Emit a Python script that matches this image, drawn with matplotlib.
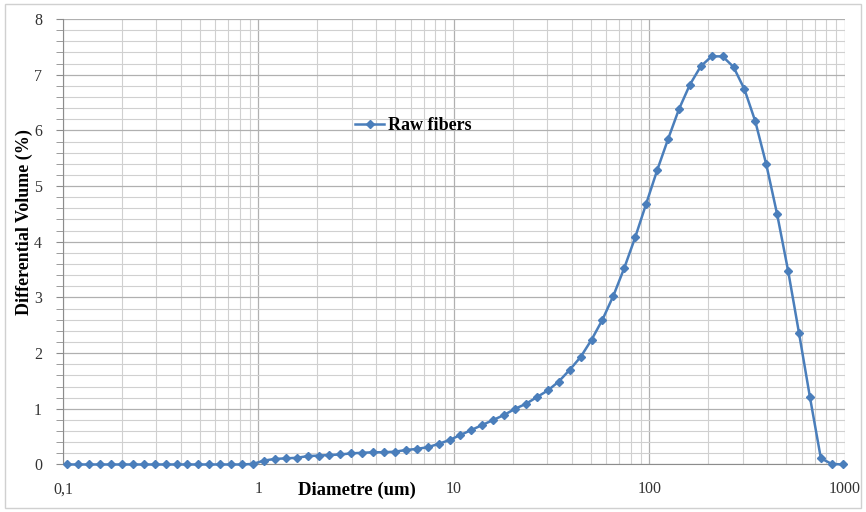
import matplotlib.pyplot as plt
from matplotlib.ticker import FixedLocator, NullFormatter, MultipleLocator
from matplotlib.patches import Rectangle

# Diameter bins (um)
diameter = [0.1053, 0.1198, 0.1362, 0.1549, 0.1761, 0.2003, 0.2278, 0.2591,
            0.2946, 0.3350, 0.3810, 0.4333, 0.4928, 0.5605, 0.6373, 0.7249,
            0.8244, 0.9377, 1.067, 1.213, 1.380, 1.569, 1.784, 2.029, 2.308,
            2.624, 2.985, 3.394, 3.860, 4.390, 4.993, 5.678, 6.457, 7.343,
            8.352, 9.495, 10.80, 12.28, 13.97, 15.89, 18.06, 20.54, 23.36,
            26.57, 30.22, 34.37, 39.08, 44.45, 50.55, 57.48, 65.38, 74.35,
            84.55, 96.16, 109.4, 124.4, 141.5, 160.9, 182.9, 208.0, 236.6,
            269.1, 306.0, 348.0, 395.8, 450.1, 511.9, 582.1, 662.0, 753.0,
            856.0, 973.6]

# Differential volume (%)
raw_fibers = [0.0, 0.0, 0.0, 0.0, 0.0, 0.0, 0.0, 0.0, 0.0, 0.0, 0.0, 0.0,
              0.0, 0.0, 0.0, 0.0, 0.0, 0.01, 0.07, 0.10, 0.11, 0.12, 0.15,
              0.16, 0.17, 0.18, 0.20, 0.21, 0.22, 0.22, 0.23, 0.26, 0.28,
              0.31, 0.37, 0.44, 0.53, 0.62, 0.71, 0.80, 0.89, 1.00, 1.09,
              1.21, 1.33, 1.49, 1.70, 1.93, 2.24, 2.60, 3.03, 3.53, 4.08,
              4.68, 5.28, 5.84, 6.38, 6.82, 7.15, 7.33, 7.33, 7.14, 6.74,
              6.16, 5.39, 4.49, 3.48, 2.36, 1.21, 0.11, 0.01, 0.0]

x_ticks = [0.1, 1, 10, 100, 1000]
x_tick_labels = ['0,1', '1', '10', '100', '1000']

serif = ['Liberation Serif', 'DejaVu Serif']

fig = plt.figure(figsize=(8.66, 5.12), dpi=100)
fig.patch.set_facecolor('white')
fig.patches.append(Rectangle((0.006, 0.008), 0.988, 0.984, transform=fig.transFigure,
                             fill=False, edgecolor='#d0d0d0', linewidth=1.0))

ax = fig.add_axes([0.0727, 0.0928, 0.9030, 0.8700])

ax.plot(diameter, raw_fibers, color='#4a7ebb', linewidth=1.8, marker='D',
        markersize=4.2, markerfacecolor='#4a7ebb', markeredgecolor='#4a7ebb',
        label='Raw fibers', zorder=3, clip_on=False)

ax.set_xscale('log')
ax.set_xlim(0.1, 1000)
ax.set_ylim(0, 8)

ax.xaxis.set_major_locator(FixedLocator(x_ticks))
ax.set_xticklabels(x_tick_labels)
ax.xaxis.set_minor_locator(FixedLocator(
    [m * 10.0 ** e for e in range(-1, 3) for m in range(2, 10)]))
ax.xaxis.set_minor_formatter(NullFormatter())
ax.yaxis.set_major_locator(MultipleLocator(1))
ax.yaxis.set_minor_locator(MultipleLocator(0.2))

ax.grid(which='major', color='#b0b0b0', linewidth=0.9)
ax.grid(which='minor', color='#d0d0d0', linewidth=0.8)
ax.set_axisbelow(True)

for side in ['top', 'right']:
    ax.spines[side].set_visible(False)
ax.spines['left'].set_color('#8c8c8c')
ax.spines['bottom'].set_color('#8c8c8c')

ax.tick_params(axis='y', which='both', direction='out', color='#8c8c8c', length=5, pad=10)
ax.tick_params(axis='x', which='both', length=0, pad=12)
for lbl in ax.get_xticklabels() + ax.get_yticklabels():
    lbl.set_fontfamily(serif)
    lbl.set_fontsize(11.5)
    lbl.set_color('#333333')

ax.set_xlabel('Diametre (um)', fontfamily=serif, fontsize=13.5, fontweight='bold')
ax.xaxis.set_label_coords(0.376, -0.038)
ax.set_ylabel('Differential Volume (%)', fontfamily=serif, fontsize=13, fontweight='bold')
ax.yaxis.set_label_coords(-0.038, 0.544)

ax.legend(loc='center left', bbox_to_anchor=(0.353, 0.76), frameon=False,
          prop={'family': serif, 'weight': 'bold', 'size': 13},
          handlelength=1.6, handletextpad=0.2, markerscale=0.9)

fig.savefig('out.png', dpi=100, facecolor=fig.get_facecolor())
